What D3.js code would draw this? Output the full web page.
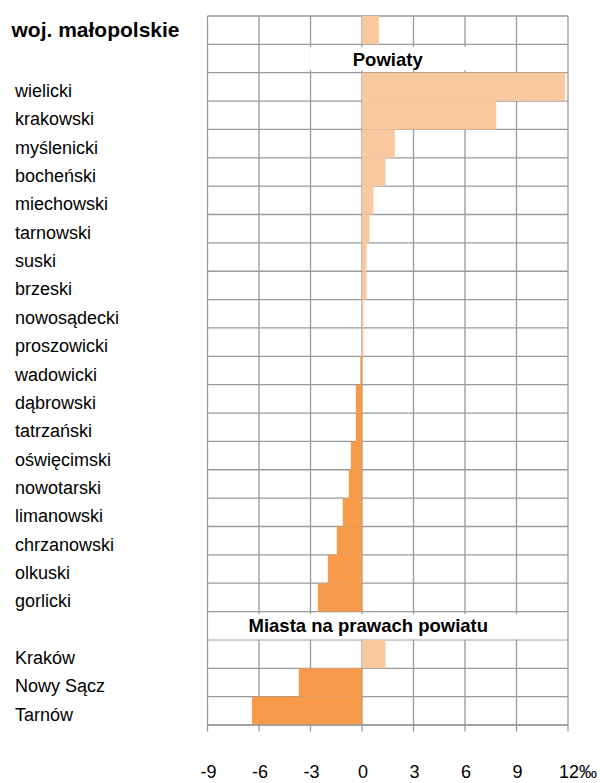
<!DOCTYPE html>
<html>
<head>
<meta charset="utf-8">
<script src="https://cdn.jsdelivr.net/npm/d3@7"></script>
<style>
  html, body { margin: 0; padding: 0; background: #ffffff; }
  svg { display: block; }
  text { font-family: "Liberation Sans", Arial, sans-serif; fill: #000; }
</style>
</head>
<body>
<div id="chart"></div>
<script>
// ---- data ----
const regionName = "woj. małopolskie";
const regionValue = [0.98];
const powiatyTitle = "Powiaty";
const powiaty = ["wielicki", "krakowski", "myślenicki", "bocheński", "miechowski", "tarnowski",
  "suski", "brzeski", "nowosądecki", "proszowicki", "wadowicki", "dąbrowski", "tatrzański",
  "oświęcimski", "nowotarski", "limanowski", "chrzanowski", "olkuski", "gorlicki"];
const powiatyValues = [11.84, 7.82, 1.91, 1.37, 0.67, 0.44, 0.26, 0.26, 0.09, 0.09, -0.1,
  -0.36, -0.36, -0.65, -0.77, -1.12, -1.47, -1.99, -2.57];
const miastaTitle = "Miasta na prawach powiatu";
const miasta = ["Kraków", "Nowy Sącz", "Tarnów"];
const miastaValues = [1.37, -3.68, -6.41];
const xTicks = [-9, -6, -3, 0, 3, 6, 9, 12];
const unit = "‰";

// ---- rows ----
const rows = [];
rows.push({ key: "woj", label: null, value: regionValue[0] });
rows.push({ key: "hdr1", header: powiatyTitle });
powiaty.forEach((p, i) => rows.push({ key: "p" + i, label: p, value: powiatyValues[i] }));
rows.push({ key: "hdr2", header: miastaTitle });
miasta.forEach((m, i) => rows.push({ key: "m" + i, label: m, value: miastaValues[i] }));

const W = 600, H = 783;
const svg = d3.select("#chart").append("svg").attr("width", W).attr("height", H);

const x = d3.scaleLinear().domain([-9, 12]).range([207.5, 568]);
const y = d3.scaleBand().domain(rows.map(r => r.key)).range([16, 725]).padding(0);
const bw = y.bandwidth();

const gridColor = "#9a9a9a";
const light = "#FAC89E";
const dark = "#F79A4A";

// grid lines
const grid = svg.append("g");
grid.selectAll("line.v").data(xTicks).enter().append("line")
  .attr("x1", d => x(d)).attr("x2", d => x(d))
  .attr("y1", y.range()[0]).attr("y2", y.range()[1])
  .attr("stroke", gridColor).attr("stroke-width", 1.3);
const hLines = rows.map(r => y(r.key)).concat([y.range()[1]]);
grid.selectAll("line.h").data(hLines).enter().append("line")
  .attr("x1", x(-9)).attr("x2", x(12))
  .attr("y1", d => d).attr("y2", d => d)
  .attr("stroke", gridColor).attr("stroke-width", 1.3);

// bars
const barRows = rows.filter(r => r.value !== undefined);
svg.append("g").selectAll("rect").data(barRows).enter().append("rect")
  .attr("x", d => x(Math.min(0, d.value)))
  .attr("width", d => Math.abs(x(d.value) - x(0)))
  .attr("y", d => y(d.key))
  .attr("height", bw)
  .attr("fill", d => d.value >= 0 ? light : dark);

// section headers with white boxes
const hdrG = svg.append("g");
{
  const r = rows[1];
  const cx = (x(-9) + x(12)) / 2;
  hdrG.append("rect")
    .attr("x", x(-3) - 1).attr("width", x(6) - x(-3) + 2)
    .attr("y", y(r.key) + 2.5).attr("height", bw - 5)
    .attr("fill", "#fff");
  hdrG.append("text").attr("x", cx).attr("y", y(r.key) + bw / 2 + 7)
    .attr("text-anchor", "middle").attr("font-weight", "bold").attr("font-size", "18.5px")
    .text(r.header);
}
{
  const r = rows[2 + powiaty.length];
  hdrG.append("rect")
    .attr("x", x(-9) + 1).attr("width", x(12) - x(-9) - 2)
    .attr("y", y(r.key) + 2.5).attr("height", bw - 3)
    .attr("fill", "#fff");
  hdrG.append("text").attr("x", 248.5).attr("y", y(r.key) + bw / 2 + 6.6)
    .attr("font-weight", "bold").attr("font-size", "18.5px")
    .text(r.header);
}

// bottom axis
const axisY = y.range()[1];
svg.append("line").attr("x1", x(-9)).attr("x2", x(12)).attr("y1", axisY).attr("y2", axisY)
  .attr("stroke", gridColor).attr("stroke-width", 1.3);
svg.append("g").selectAll("line").data(xTicks).enter().append("line")
  .attr("x1", d => x(d)).attr("x2", d => x(d)).attr("y1", axisY).attr("y2", axisY + 6.5)
  .attr("stroke", gridColor).attr("stroke-width", 1.3);

const tickG = svg.append("g").attr("font-size", "18px");
xTicks.forEach((t, i) => {
  const isLast = i === xTicks.length - 1;
  const txt = tickG.append("text").attr("y", 778).attr("x", x(t) + 1);
  if (isLast) {
    const tmp = tickG.append("text").text(String(t));
    const w = tmp.node().getComputedTextLength();
    tmp.remove();
    txt.attr("text-anchor", "start").attr("x", x(t) + 1 - w / 2).text(String(t) + unit);
  } else {
    txt.attr("text-anchor", "middle").text(String(t));
  }
});

// row labels
svg.append("text").attr("x", 11.5).attr("y", y("woj") + bw / 2 + 7.2)
  .attr("font-weight", "bold").attr("font-size", "21px").text(regionName);
svg.append("g").attr("font-size", "18px").selectAll("text")
  .data(rows.filter(r => r.label)).enter().append("text")
  .attr("x", 15)
  .attr("y", d => y(d.key) + bw / 2 + 10)
  .text(d => d.label);
</script>
</body>
</html>
